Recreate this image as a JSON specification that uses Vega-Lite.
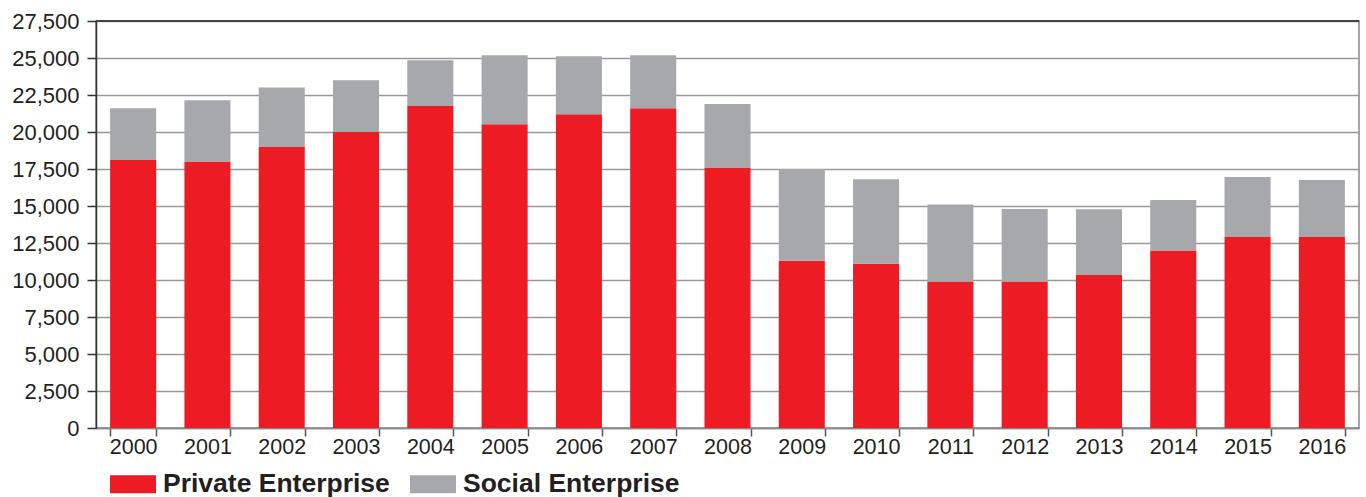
{
  "$schema": "https://vega.github.io/schema/vega-lite/v6.json",
  "width": 1263,
  "height": 407,
  "autosize": {"type": "none"},
  "padding": {"left": 96, "top": 21, "right": 7, "bottom": 69},
  "config": {
    "font": "Liberation Sans",
    "view": {"stroke": "#888888", "strokeWidth": 1.5}
  },
  "data": {
    "values": [
      {"year": "2000", "type": "Private Enterprise", "k": 1, "value": 18100},
      {"year": "2000", "type": "Social Enterprise", "k": 2, "value": 3500},
      {"year": "2001", "type": "Private Enterprise", "k": 1, "value": 18000},
      {"year": "2001", "type": "Social Enterprise", "k": 2, "value": 4150},
      {"year": "2002", "type": "Private Enterprise", "k": 1, "value": 18980},
      {"year": "2002", "type": "Social Enterprise", "k": 2, "value": 4020},
      {"year": "2003", "type": "Private Enterprise", "k": 1, "value": 20000},
      {"year": "2003", "type": "Social Enterprise", "k": 2, "value": 3500},
      {"year": "2004", "type": "Private Enterprise", "k": 1, "value": 21750},
      {"year": "2004", "type": "Social Enterprise", "k": 2, "value": 3100},
      {"year": "2005", "type": "Private Enterprise", "k": 1, "value": 20530},
      {"year": "2005", "type": "Social Enterprise", "k": 2, "value": 4660},
      {"year": "2006", "type": "Private Enterprise", "k": 1, "value": 21200},
      {"year": "2006", "type": "Social Enterprise", "k": 2, "value": 3920},
      {"year": "2007", "type": "Private Enterprise", "k": 1, "value": 21600},
      {"year": "2007", "type": "Social Enterprise", "k": 2, "value": 3590},
      {"year": "2008", "type": "Private Enterprise", "k": 1, "value": 17600},
      {"year": "2008", "type": "Social Enterprise", "k": 2, "value": 4300},
      {"year": "2009", "type": "Private Enterprise", "k": 1, "value": 11300},
      {"year": "2009", "type": "Social Enterprise", "k": 2, "value": 6200},
      {"year": "2010", "type": "Private Enterprise", "k": 1, "value": 11100},
      {"year": "2010", "type": "Social Enterprise", "k": 2, "value": 5700},
      {"year": "2011", "type": "Private Enterprise", "k": 1, "value": 9900},
      {"year": "2011", "type": "Social Enterprise", "k": 2, "value": 5200},
      {"year": "2012", "type": "Private Enterprise", "k": 1, "value": 9900},
      {"year": "2012", "type": "Social Enterprise", "k": 2, "value": 4900},
      {"year": "2013", "type": "Private Enterprise", "k": 1, "value": 10340},
      {"year": "2013", "type": "Social Enterprise", "k": 2, "value": 4440},
      {"year": "2014", "type": "Private Enterprise", "k": 1, "value": 12000},
      {"year": "2014", "type": "Social Enterprise", "k": 2, "value": 3400},
      {"year": "2015", "type": "Private Enterprise", "k": 1, "value": 12910},
      {"year": "2015", "type": "Social Enterprise", "k": 2, "value": 4050},
      {"year": "2016", "type": "Private Enterprise", "k": 1, "value": 12910},
      {"year": "2016", "type": "Social Enterprise", "k": 2, "value": 3840}
    ]
  },
  "layer": [
    {
      "mark": {"type": "bar"},
      "encoding": {
        "x": {
          "field": "year",
          "type": "ordinal",
          "scale": {"paddingInner": 0.38, "paddingOuter": 0.19},
          "axis": {
            "title": null,
            "labelAngle": 0,
            "labelFontSize": 21.5,
            "labelColor": "#231f20",
            "labelPadding": 0,
            "tickBand": "extent",
            "tickSize": 8,
            "tickColor": "#555555",
            "tickWidth": 1.5,
            "domainColor": "#888888",
            "domainWidth": 1.5
          }
        },
        "y": {
          "field": "value",
          "type": "quantitative",
          "stack": "zero",
          "scale": {"domain": [0, 27500], "nice": false},
          "axis": {
            "title": null,
            "values": [0, 2500, 5000, 7500, 10000, 12500, 15000, 17500, 20000, 22500, 25000, 27500],
            "format": ",.0f",
            "labelFontSize": 22,
            "labelColor": "#231f20",
            "labelPadding": 8,
            "tickSize": 9,
            "tickColor": "#333333",
            "tickWidth": 1.5,
            "domainColor": "#333333",
            "domainWidth": 1.5,
            "grid": true,
            "gridColor": "#999999",
            "gridWidth": 1.5
          }
        },
        "color": {
          "field": "type",
          "type": "nominal",
          "scale": {"domain": ["Private Enterprise", "Social Enterprise"], "range": ["#ED1C24", "#A7A8AC"]},
          "legend": {
            "title": null,
            "orient": "none",
            "legendX": 14,
            "legendY": 440,
            "direction": "horizontal",
            "symbolType": "M-1,-0.39L1,-0.39L1,0.39L-1,0.39Z",
            "symbolSize": 2116,
            "symbolStrokeWidth": 0,
            "symbolOpacity": 1,
            "labelFontSize": 26.5,
            "labelFontWeight": "bold",
            "labelColor": "#231f20",
            "labelOffset": 7,
            "columnPadding": 20,
            "labelLimit": 400
          }
        },
        "order": {"field": "k", "type": "quantitative", "sort": "ascending"}
      }
    },
    {
      "mark": {"type": "rule", "color": "#444444", "strokeWidth": 2},
      "encoding": {
        "y": {
          "datum": 27500,
          "type": "quantitative",
          "axis": {
            "title": null,
            "values": [0, 2500, 5000, 7500, 10000, 12500, 15000, 17500, 20000, 22500, 25000, 27500],
            "format": ",.0f",
            "labelFontSize": 22,
            "labelColor": "#231f20",
            "labelPadding": 8,
            "tickSize": 9,
            "tickColor": "#333333",
            "tickWidth": 1.5,
            "domainColor": "#333333",
            "domainWidth": 1.5,
            "grid": true,
            "gridColor": "#999999",
            "gridWidth": 1.5
          }
        }
      }
    }
  ]
}
